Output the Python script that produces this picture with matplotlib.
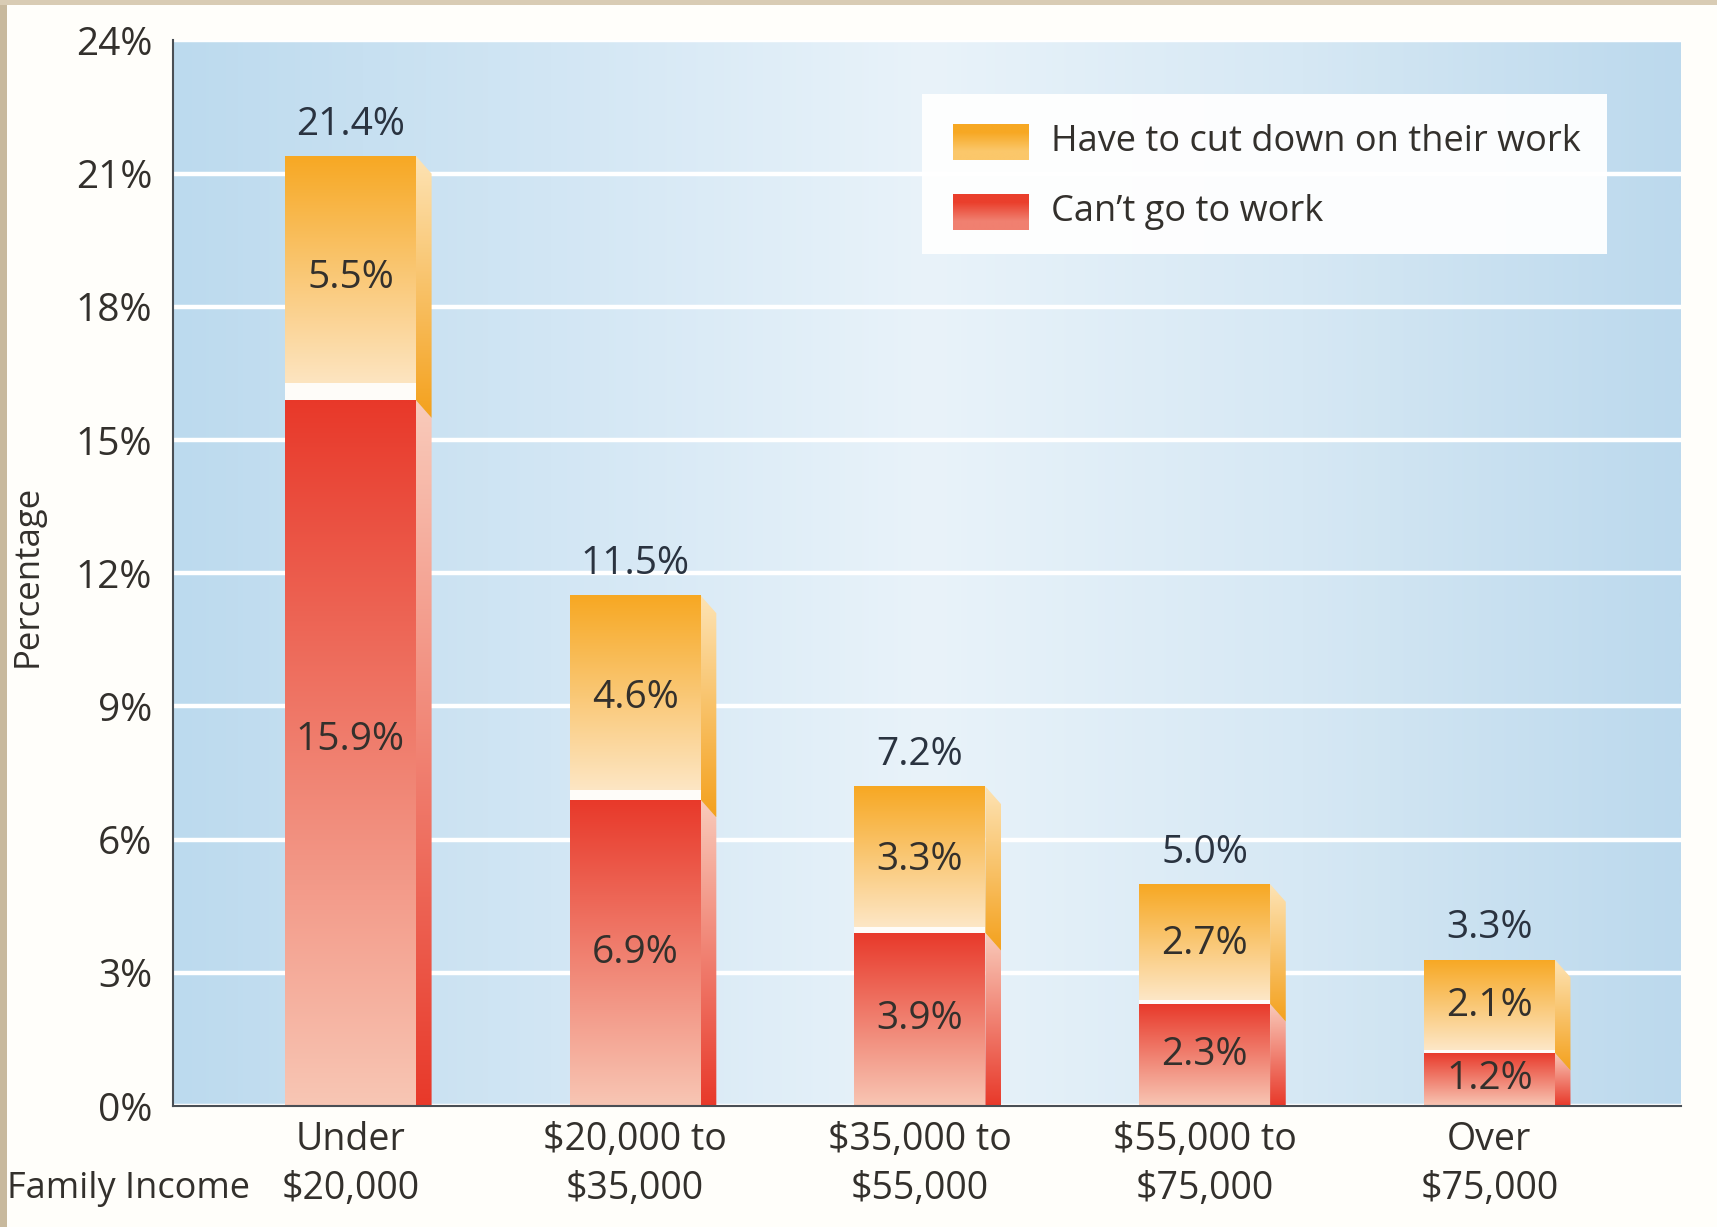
import numpy as np
import matplotlib.pyplot as plt
from matplotlib.patches import Rectangle, Polygon
from matplotlib.colors import to_rgba

plt.rcParams["font.family"] = ["Open Sans", "DejaVu Sans"]

# data
categories = ["Under\n$20,000", "$20,000 to\n$35,000", "$35,000 to\n$55,000",
              "$55,000 to\n$75,000", "Over\n$75,000"]
cant_go = [15.9, 6.9, 3.9, 2.3, 1.2]
cut_down = [5.5, 4.6, 3.3, 2.7, 2.1]
totals = [21.4, 11.5, 7.2, 5.0, 3.3]
yticks = [0, 3, 6, 9, 12, 15, 18, 21, 24]

txt = "#33302c"
W = 0.46      # front face width
DX = 0.055    # side face width
DY = 0.4      # side face slant


def vgrad(ax, clip, extent, c_top, c_bot, z):
    n = 128
    t = np.linspace(0, 1, n)[:, None]
    a, b = np.array(to_rgba(c_bot)), np.array(to_rgba(c_top))
    img = (a + (b - a) * t)[:, None, :]
    im = ax.imshow(img, extent=extent, origin="lower", aspect="auto",
                   zorder=z, interpolation="bilinear")
    im.set_clip_path(clip)
    return im


fig = plt.figure(figsize=(17.17, 12.27), dpi=100, facecolor="#fffefa")
ax = fig.add_axes([0.1008, 0.0986, 0.8782, 0.8684])
x = np.arange(len(categories))
xlim = (-0.623, 4.673)
ax.set_xlim(*xlim)
ax.set_ylim(0, 24)

# background gradient
cols = np.array([to_rgba(c) for c in ["#bcdaee", "#d2e6f4", "#e9f3fa", "#d6e8f4", "#bcd9ed"]])
pos = np.linspace(0, 1, len(cols))
u = np.linspace(0, 1, 400)
bg = np.stack([np.interp(u, pos, cols[:, k]) for k in range(4)], axis=1)[None, :, :]
ax.imshow(bg, extent=(xlim[0], xlim[1], 0, 24), aspect="auto", zorder=0,
          interpolation="bilinear")

for yv in yticks:
    ax.axhline(yv, color="white", lw=3.2, zorder=1)

# bars
red_bars = ax.bar(x, cant_go, width=W, color="none", zorder=3)
org_bars = ax.bar(x, cut_down, bottom=cant_go, width=W, color="none", zorder=3)

for i in range(len(x)):
    xl, xr = x[i] - W / 2, x[i] + W / 2
    r, tot = cant_go[i], totals[i]
    gap = 0.018 * tot
    # front faces
    vgrad(ax, red_bars[i], (xl, xr, 0, r), "#e8392a", "#f8c6b4", 3)
    vgrad(ax, org_bars[i], (xl, xr, r, tot), "#f7a823", "#fde9cc", 3)
    ax.add_patch(Rectangle((xl, r), W, gap, facecolor="white", edgecolor="none",
                           alpha=0.9, zorder=4))
    # side faces
    side_r = Polygon([(xr, r), (xr + DX, r - DY), (xr + DX, -DY), (xr, 0)],
                     closed=True, facecolor="none", edgecolor="none")
    side_o = Polygon([(xr, tot), (xr + DX, tot - DY), (xr + DX, r - DY), (xr, r)],
                     closed=True, facecolor="none", edgecolor="none")
    ax.add_patch(side_r)
    ax.add_patch(side_o)
    vgrad(ax, side_r, (xr, xr + DX, 0, r), "#f9cbbb", "#e8392a", 3)
    vgrad(ax, side_o, (xr, xr + DX, r - DY, tot), "#fde3b4", "#f4a11d", 3)
    # labels
    ax.text(x[i], tot + 0.7, f"{tot:.1f}%", ha="center", va="center",
            fontsize=28, color="#2a3340", zorder=6)
    ax.text(x[i], r + cut_down[i] / 2, f"{cut_down[i]:.1f}%", ha="center",
            va="center", fontsize=28, color=txt, zorder=6)
    ax.text(x[i], r / 2 + (0.3 if r > 10 else 0), f"{r:.1f}%", ha="center",
            va="center", fontsize=28, color=txt, zorder=6)

# axes cosmetics
ax.set_yticks(yticks)
ax.set_yticklabels([f"{v}%" for v in yticks])
ax.set_xticks(x)
ax.set_xticklabels(categories, linespacing=1.38)
ax.tick_params(axis="y", length=0, pad=15, labelsize=28, labelcolor=txt)
ax.tick_params(axis="x", length=0, pad=11, labelsize=27, labelcolor=txt)
for s in ["top", "right"]:
    ax.spines[s].set_visible(False)
for s in ["left", "bottom"]:
    ax.spines[s].set_color("#4a4f55")
    ax.spines[s].set_linewidth(1.5)
    ax.spines[s].set_zorder(5)

# legend
ax.add_patch(Rectangle((0.497, 0.80), 0.454, 0.15, transform=ax.transAxes,
                       facecolor="white", edgecolor="none", alpha=0.95, zorder=5))
leg_items = [("Have to cut down on their work", "#f7a823", "#fbc76a"),
             ("Can\u2019t go to work", "#ea3f2c", "#f08070")]
for k, (lab, ct, cb) in enumerate(leg_items):
    yc = 0.905 - k * 0.066
    sw = Rectangle((0.517, yc - 0.017), 0.05, 0.034, transform=ax.transAxes,
                   facecolor="none", edgecolor="none", zorder=6)
    ax.add_patch(sw)
    im = ax.imshow(np.array([to_rgba(cb), to_rgba(ct)])[:, None, :],
                   extent=(0.517, 0.567, yc - 0.017, yc + 0.017), origin="lower",
                   transform=ax.transAxes, aspect="auto", zorder=6,
                   interpolation="bilinear")
    im.set_clip_path(sw)
    ax.text(0.582, yc, lab, transform=ax.transAxes, ha="left", va="center",
            fontsize=26, color=txt, zorder=7)
ax.set_xlim(*xlim)
ax.set_ylim(0, 24)

fig.text(0.075, 0.031, "Family Income", ha="center", va="center", fontsize=26, color=txt)
fig.text(0.016, 0.531, "Percentage", ha="center", va="center", rotation=90,
         fontsize=25, color=txt)

# page border
fig.patches.append(Rectangle((0, 0), 0.004, 1, transform=fig.transFigure,
                             facecolor="#c8b99d", edgecolor="none"))
fig.patches.append(Rectangle((0, 0.996), 1, 0.004, transform=fig.transFigure,
                             facecolor="#d9ccb4", edgecolor="none"))

fig.savefig("out.png", dpi=100, facecolor=fig.get_facecolor())
